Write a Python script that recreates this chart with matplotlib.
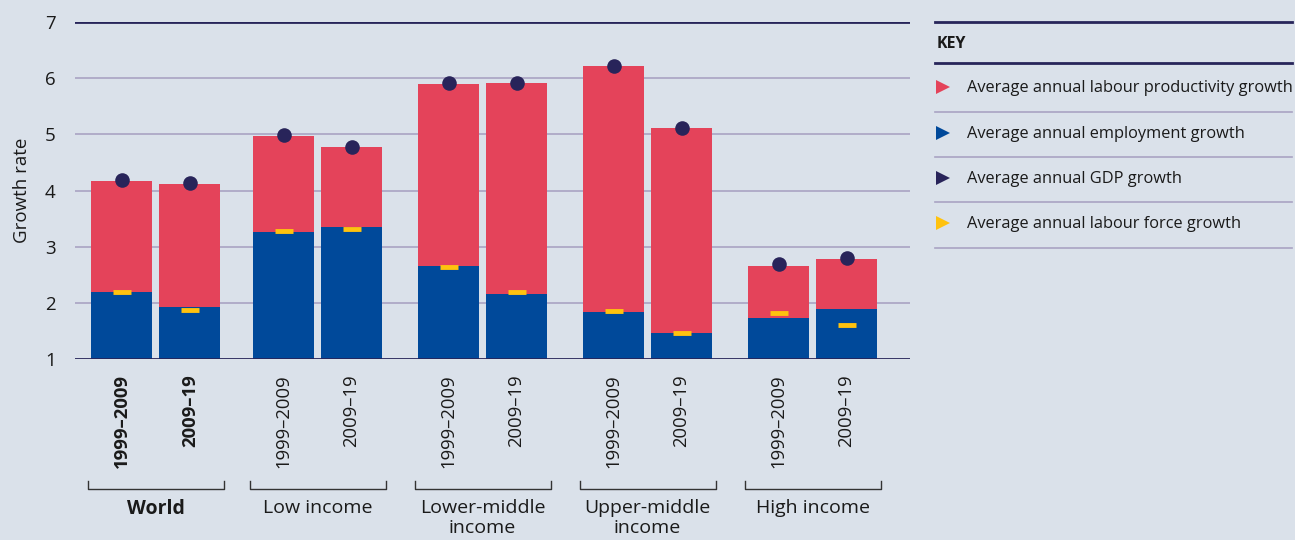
import matplotlib
matplotlib.use("Agg")
import matplotlib.pyplot as plt
from matplotlib.transforms import blended_transform_factory
from matplotlib.lines import Line2D

plt.rcParams['font.family'] = ['Open Sans', 'DejaVu Sans']

groups = ["World", "Low income", "Lower-middle\nincome", "Upper-middle\nincome", "High income"]
periods = ["1999–2009", "2009–19"]
# per group: [1999-2009, 2009-19]
total_top = [[4.17, 4.12], [4.97, 4.77], [5.89, 5.91], [6.21, 5.11], [2.66, 2.78]]
employment = [[2.19, 1.93], [3.26, 3.35], [2.65, 2.16], [1.84, 1.47], [1.73, 1.89]]
gdp = [[4.18, 4.13], [4.98, 4.78], [5.92, 5.92], [6.22, 5.12], [2.70, 2.79]]
labour_force = [[2.19, 1.87], [3.28, 3.32], [2.63, 2.19], [1.86, 1.47], [1.82, 1.60]]
yticks = [1, 2, 3, 4, 5, 6, 7]
legend_labels = ["Average annual labour productivity growth",
                 "Average annual employment growth",
                 "Average annual GDP growth",
                 "Average annual labour force growth"]

BG = "#dae1ea"
RED = "#e4435a"
BLUE = "#00499a"
NAVY = "#28245a"
YELLOW = "#ffc20e"
GRID = "#a9a3c3"
DARK = "#27255a"
TXT = "#1a1a1a"

fig = plt.figure(figsize=(12.95, 5.4), dpi=100, facecolor=BG)
ax = fig.add_axes([75/1295, 1-359/540, (910-75)/1295, (359-22)/540])
ax.set_facecolor(BG)

offset = 34/165
width = 61/165
base = 1.0
centers = [g + (0.021 if g == 0 else 0.0) for g in range(len(groups))]
for g in range(len(groups)):
    for p in range(2):
        x = centers[g] + (p - 0.5) * 2 * offset
        emp = employment[g][p]
        top = total_top[g][p]
        ax.bar(x, emp - base, bottom=base, width=width, color=BLUE, zorder=3, linewidth=0)
        ax.bar(x, top - emp, bottom=emp, width=width, color=RED, zorder=3, linewidth=0)
        ax.plot([x], [labour_force[g][p]], marker='_', markersize=13, markeredgewidth=3.5,
                color=YELLOW, zorder=5, linestyle='none')
        ax.plot([x], [gdp[g][p]], marker='o', markersize=10.5, color=NAVY,
                markeredgewidth=0, zorder=6, linestyle='none')

ax.set_xlim((75-152.5)/165, (910-152.5)/165)
ax.set_ylim(1, 7)
ax.set_yticks(yticks)
ax.set_yticklabels([str(t) for t in yticks], fontsize=13.5, color=TXT)
ax.tick_params(axis='y', length=0, pad=14)
ax.tick_params(axis='x', length=0)
ax.set_xticks([])
for t in yticks[1:-1]:
    ax.axhline(t, color=GRID, linewidth=1.2, zorder=1)
for s in ax.spines.values():
    s.set_visible(False)
ax.axhline(1, color=DARK, linewidth=2, zorder=4)
ax.axhline(7, color=DARK, linewidth=2, zorder=4)
ax.set_ylabel("Growth rate", fontsize=13.5, color=TXT, labelpad=10)

trans = blended_transform_factory(ax.transData, fig.transFigure)
for g in range(len(groups)):
    bold = (g == 0)
    for p in range(2):
        x = centers[g] + (p - 0.5) * 2 * offset
        ax.text(x, 1 - 374/540, periods[p], rotation=90, ha='center', va='top',
                fontsize=13.3, fontweight='bold' if bold else 'normal', color=TXT,
                transform=trans)
    x0 = centers[g] - 68/165
    x1 = centers[g] + 68/165
    yb = 1 - 489/540
    yt = 1 - 481/540
    ax.add_line(Line2D([x0, x0, x1, x1], [yt, yb, yb, yt], color="#333333",
                       linewidth=1, transform=trans, clip_on=False))
    ax.text(centers[g], 1 - 499/540, groups[g], ha='center', va='top', fontsize=14,
            fontweight='bold' if bold else 'normal', color=TXT,
            transform=trans, linespacing=1.15)

# Legend / key
fx = lambda px: px/1295
fy = lambda py: 1 - py/540
fig.add_artist(Line2D([fx(935), fx(1292)], [fy(22), fy(22)], color=DARK, linewidth=2))
fig.text(fx(937), fy(44), "KEY", fontsize=11.5, fontweight='bold', va='center', ha='left', color=TXT)
fig.add_artist(Line2D([fx(935), fx(1292)], [fy(63), fy(63)], color=DARK, linewidth=2))
key_colors = [RED, BLUE, NAVY, YELLOW]
item_y = [88, 134, 179, 224]
sep_y = [112, 157, 202, 248]
for lab, c, iy, sy in zip(legend_labels, key_colors, item_y, sep_y):
    fig.add_artist(Line2D([fx(943)], [fy(iy - 1)], marker='>', markersize=10,
                          color=c, markeredgewidth=0, linestyle='none'))
    fig.text(fx(967), fy(iy), lab, fontsize=11.75, va='center', ha='left', color=TXT)
    fig.add_artist(Line2D([fx(935), fx(1292)], [fy(sy), fy(sy)], color=GRID, linewidth=1.2))

fig.savefig("out.png", dpi=100, facecolor=BG)
